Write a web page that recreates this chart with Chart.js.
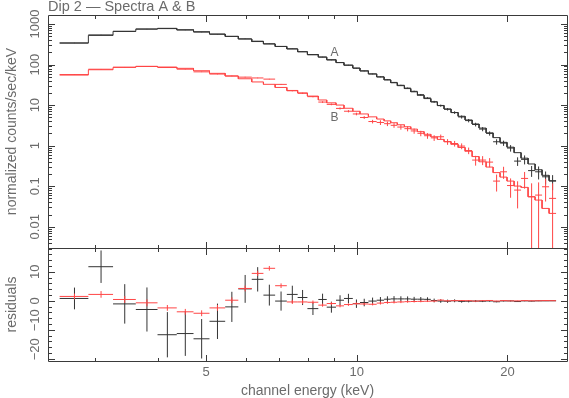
<!DOCTYPE html>
<html lang="en">
<head>
<meta charset="UTF-8">
<title>Dip 2 — Spectra A &amp; B</title>
<script src="https://cdn.jsdelivr.net/npm/chart.js@4"></script>
<style>
  body { margin: 0; background: #fff; }
  canvas { display: block; }
</style>
</head>
<body>
<canvas id="spectra" width="569" height="398"></canvas>
<script>
// channel bin edges (keV), both spectra use the same grouping
const binEdges = [2.55, 2.91, 3.26, 3.62, 4.00, 4.37, 4.72, 5.08, 5.46, 5.80, 6.17, 6.51, 6.87, 7.25,
  7.62, 7.97, 8.38, 8.71, 9.09, 9.43, 9.82, 10.15, 10.55, 10.96, 11.34, 11.69, 12.05, 12.45, 12.82,
  13.22, 13.63, 14.06, 14.49, 14.94, 15.43, 15.94, 16.46, 17.00, 17.55, 18.13, 18.72, 19.33, 19.96,
  20.62, 21.29, 21.99, 22.71, 23.45, 24.22, 25.01];

// spectrum A (counts/sec/keV)
const modelA = [340, 526, 660, 753, 783, 723, 646, 567, 497, 427, 370, 323, 280, 243, 207, 177, 153,
  132, 112, 96.3, 82.2, 70.1, 58.8, 49.6, 41.8, 35.6, 30.2, 25.6, 21.3, 17.5, 14.5, 12.0, 9.82, 8.05,
  6.56, 5.32, 4.31, 3.43, 2.72, 2.07, 1.58, 1.21, 0.919, 0.673, 0.492, 0.354, 0.255, 0.186, 0.137];
const dataA = [340.8, 537.8, 658.9, 750, 771.3, 711.7, 632.9, 559.9, 494.9, 431.1, 377.4, 325.0, 279.9,
  245.2, 208.1, 174.3, 153.5, 129.8, 112.2, 97.1, 81.2, 69.5, 58.7, 49.8, 42.4, 36.3, 30.9, 26.3, 21.9,
  18.1, 15.0, 12.1, 9.72, 7.90, 6.56, 5.12, 4.16, 3.33, 2.57, 2.01, 1.25, 1.16, 0.874, 0.417, 0.460,
  0.243, 0.227, 0.171, 0.134];
const errA = [3.75, 5.6, 6.8, 7.6, 7.8, 7.7, 6.8, 6.1, 5.2, 4.8, 4.2, 3.6, 3.3, 3.0, 2.6, 2.2, 2.0, 1.9,
  1.7, 1.6, 1.45, 1.3, 1.2, 1.1, 1.0, 0.95, 0.9, 0.85, 0.8, 0.75, 0.7, 0.65, 0.6, 0.55, 0.5, 0.45, 0.4,
  0.35, 0.3, 0.24, 0.19, 0.17, 0.16, 0.10, 0.115, 0.073, 0.08, 0.06, 0.054];
const residA = [0.8, 11.75, -1.07, -3.0, -11.7, -11.3, -13.1, -7.07, -2.1, 4.1, 7.4, 1.95, -0.1, 2.2,
  1.13, -2.7, 0.45, -2.2, 0.2, 0.8, -1.0, -0.6, -0.1, 0.2, 0.55, 0.65, 0.65, 0.65, 0.55, 0.55, 0.5, 0.1,
  -0.1, -0.15, 0.0, -0.2, -0.15, -0.1, -0.15, -0.06, -0.33, -0.05, -0.05, -0.26, -0.03, -0.11, -0.03,
  -0.02, 0.0];

// spectrum B
const modelB = [55.2, 74.6, 85.5, 90.5, 87.0, 80.8, 70.5, 60.8, 52.2, 44.7, 37.3, 32.6, 27.3, 23.0,
  20.0, 16.7, 13.4, 11.4, 10.05, 8.38, 7.06, 6.06, 5.14, 4.54, 4.09, 3.68, 3.28, 2.93, 2.56, 2.22, 1.91,
  1.66, 1.43, 1.26, 1.08, 0.904, 0.729, 0.539, 0.401, 0.297, 0.217, 0.168, 0.134, 0.101, 0.0937, 0.0550,
  0.0456, 0.0284, 0.0214];
const dataB = [56.7, 76.8, 86.0, 89.8, 84.6, 77.0, 66.2, 58.4, 52.4, 49.0, 46.8, 43.8, 32.5, 22.6, 19.6,
  16.2, 11.9, 10.45, 8.3, 7.08, 6.06, 4.96, 3.94, 3.74, 3.49, 3.18, 2.88, 2.63, 2.31, 2.02, 1.76, 1.56,
  1.66, 1.25, 1.13, 0.978, 0.758, 0.442, 0.442, 0.394, 0.134, 0.227, 0.104, 0.0804, 0.156, 0.055,
  0.0605, 0.097, 0.0502];
const errB = [1.0, 1.15, 1.2, 1.2, 1.0, 1.0, 1.0, 1.0, 1.0, 1.0, 0.9, 0.8, 0.8, 0.7, 0.65, 0.6, 0.55,
  0.5, 0.5, 0.45, 0.45, 0.4, 0.4, 0.5, 0.45, 0.42, 0.4, 0.37, 0.34, 0.31, 0.28, 0.25, 0.22, 0.2, 0.18,
  0.16, 0.14, 0.12, 0.11, 0.1, 0.06, 0.075, 0.052, 0.052, 0.069, 0.063, 0.064, 0.055, 0.067];
const residB = [1.5, 2.2, 0.45, -0.7, -2.45, -3.8, -4.3, -2.45, 0.2, 4.25, 9.45, 11.2, 5.2, -0.4, -0.4,
  -0.5, -1.5, -0.95, -1.75, -1.3, -1.0, -1.1, -1.2, -0.8, -0.6, -0.5, -0.4, -0.3, -0.25, -0.2, -0.15,
  -0.1, 0.23, -0.01, 0.05, 0.07, 0.03, -0.1, 0.04, 0.1, -0.08, 0.06, -0.03, -0.02, 0.06, 0.0, 0.015,
  0.07, 0.03];

// axes
const energyRange = [2.417, 26.3];
const countRange = [0.003, 1670];
const residRange = [-20.76, 18.2];
const energyTicks = [3, 4, 5, 6, 7, 8, 9, 10, 20];
const energyLabels = [5, 10, 20];
const countLabels = [0.01, 0.1, 1, 10, 100, 1000];
const residLabels = [-20, -10, 0, 10];

// curve names written next to the models
const curveNames = ['A', 'B'];
const curveNameE = [9.03, 9.03];
const curveNameY = [198, 4.94];

const black = '#333333';
const red = '#ff4545';
const textGrey = '#6b6b6b';
const fontFamily = "'Liberation Sans', Arial, sans-serif";
Chart.defaults.font.family = fontFamily;

// histogram: horizontal run across every bin, joined by risers
function steps(edges, vals) {
  const pts = [];
  vals.forEach((v, i) => {
    pts.push({x: edges[i], y: v}, {x: edges[i + 1], y: v});
  });
  return pts;
}

// data crosses: bin width across, error bar up and down, split by gaps
function crosses(edges, vals, errs, floor) {
  const pts = [];
  vals.forEach((v, i) => {
    const lo = edges[i], hi = edges[i + 1], mid = (lo + hi) / 2;
    let low = v - errs[i];
    if (floor !== undefined && low < floor) low = floor;
    pts.push({x: lo, y: v}, {x: hi, y: v}, {x: hi, y: null},
      {x: mid, y: low}, {x: mid, y: v + errs[i]}, {x: mid, y: null});
  });
  return pts;
}

function lineSet(points, color, axis) {
  return {data: points, borderColor: color, borderWidth: 1, pointRadius: 0,
    spanGaps: false, tension: 0, fill: false, xAxisID: 'x', yAxisID: axis};
}

const near = (list, v) => list.find(l => Math.abs(l - v) <= 1e-9 * Math.max(1, Math.abs(l)));

// inward ticks on all four sides of both panels, rotated y labels, title
const frameTicks = {
  id: 'frameTicks',
  afterDraw(chart) {
    const {ctx} = chart;
    const {x, y, yRes} = chart.scales;
    const sharp = v => Math.round(v) + 0.5;
    const left = sharp(x.left), right = sharp(x.right);
    ctx.save();
    ctx.strokeStyle = '#3a3a3a';
    ctx.lineWidth = 1;
    ctx.beginPath();
    [[y, countLabels], [yRes, residLabels]].forEach(([panel, labels]) => {
      const top = sharp(panel.top), bottom = sharp(panel.bottom);
      ctx.rect(left, top, right - left, bottom - top);
      x.ticks.forEach(t => {
        const px = sharp(x.getPixelForValue(t.value));
        const len = near(energyLabels, t.value) !== undefined ? 6.5 : 3.5;
        ctx.moveTo(px, top); ctx.lineTo(px, top + len);
        ctx.moveTo(px, bottom); ctx.lineTo(px, bottom - len);
      });
      panel.ticks.forEach(t => {
        const py = sharp(panel.getPixelForValue(t.value));
        const len = near(labels, t.value) !== undefined ? 6.5 : 3.5;
        ctx.moveTo(left, py); ctx.lineTo(left + len, py);
        ctx.moveTo(right, py); ctx.lineTo(right - len, py);
      });
    });
    ctx.stroke();

    ctx.fillStyle = textGrey;
    ctx.font = '13px ' + fontFamily;
    ctx.textAlign = 'center';
    ctx.textBaseline = 'middle';
    [[y, countLabels], [yRes, residLabels]].forEach(([panel, labels]) => {
      labels.forEach(l => {
        const py = panel.getPixelForValue(l) + (l < 0 ? -9.5 : 0);
        const text = l < 0 ? '\u2212' + Math.abs(l) : String(l);
        ctx.save();
        ctx.translate(35, py);
        ctx.rotate(-Math.PI / 2);
        ctx.fillText(text, 0, 0);
        ctx.restore();
      });
    });

    ctx.font = '12px ' + fontFamily;
    curveNames.forEach((n, i) => {
      ctx.fillText(n, x.getPixelForValue(curveNameE[i]), y.getPixelForValue(curveNameY[i]));
    });

    ctx.textAlign = 'left';
    ctx.font = '14.5px ' + fontFamily;
    ctx.fillText('Dip 2 \u2014 Spectra A & B', x.left, 7);
    ctx.restore();
  }
};

new Chart(document.getElementById('spectra'), {
  type: 'line',
  data: {
    datasets: [
      lineSet(steps(binEdges, modelB), red, 'y'),
      lineSet(crosses(binEdges, dataB, errB, countRange[0]), red, 'y'),
      lineSet(crosses(binEdges, residB, errB), red, 'yRes'),
      lineSet(steps(binEdges, modelA), black, 'y'),
      lineSet(crosses(binEdges, dataA, errA, countRange[0]), black, 'y'),
      lineSet(crosses(binEdges, residA, errA), black, 'yRes')
    ]
  },
  options: {
    responsive: false,
    animation: false,
    layout: {padding: {top: 15, right: 2, left: 0, bottom: 0}},
    plugins: {legend: {display: false}, tooltip: {enabled: false}},
    scales: {
      x: {
        type: 'logarithmic', position: 'bottom',
        min: energyRange[0], max: energyRange[1],
        grid: {display: false, drawTicks: false}, border: {display: false},
        afterBuildTicks: s => { s.ticks = energyTicks.map(v => ({value: v})); },
        afterFit: s => { s.height = 37; },
        ticks: {
          autoSkip: false, maxRotation: 0, padding: 4, color: textGrey, font: {size: 13},
          callback: v => (near(energyLabels, v) !== undefined ? String(v) : '')
        },
        title: {display: true, text: 'channel energy (keV)', color: textGrey,
          font: {size: 14}, padding: {top: 0, bottom: -2}}
      },
      yRes: {
        type: 'linear', axis: 'y', position: 'left', stack: 'panels', stackWeight: 113,
        min: residRange[0], max: residRange[1],
        grid: {display: false, drawTicks: false}, border: {display: false},
        ticks: {display: false},
        afterBuildTicks: s => {
          const t = [];
          for (let v = -20; v <= 18; v += 2) t.push({value: v});
          s.ticks = t;
        },
        afterFit: s => { s.width = 48; },
        title: {display: true, text: 'residuals', color: textGrey, font: {size: 14}}
      },
      y: {
        type: 'logarithmic', position: 'left', stack: 'panels', stackWeight: 233,
        min: countRange[0], max: countRange[1],
        grid: {display: false, drawTicks: false}, border: {display: false},
        ticks: {display: false},
        afterBuildTicks: s => {
          const t = [];
          for (let e = -3; e <= 3; e++) {
            for (let m = 1; m <= 9; m++) {
              const v = m * Math.pow(10, e);
              if (v >= s.min && v <= s.max) t.push({value: v});
            }
          }
          s.ticks = t;
        },
        afterFit: s => { s.width = 48; },
        title: {display: true, text: 'normalized counts/sec/keV', color: textGrey, font: {size: 14}}
      }
    }
  },
  plugins: [frameTicks]
});
</script>
</body>
</html>
